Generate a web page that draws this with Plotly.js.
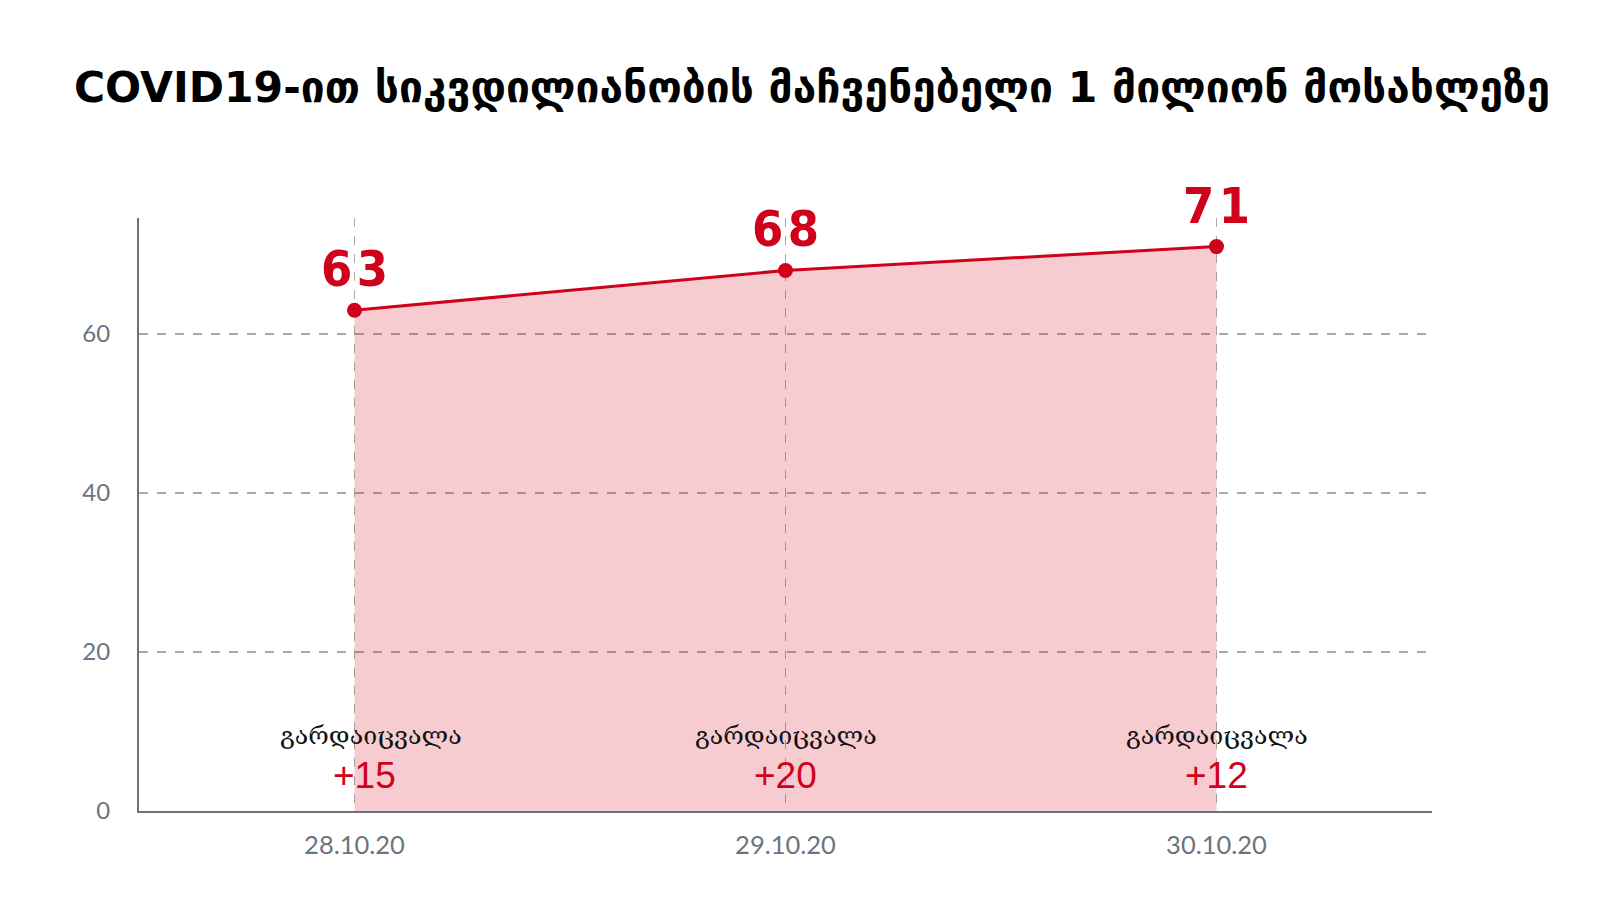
<!DOCTYPE html>
<html>
<head>
<meta charset="utf-8">
<script src="https://cdn.plot.ly/plotly-3.0.1.min.js"></script>
<style>html,body{margin:0;padding:0;background:#fff;}#chart{width:1600px;height:923px;}</style>
</head>
<body>
<div id="chart"></div>
<script>
const titleText = 'COVID19-ით სიკვდილიანობის მაჩვენებელი 1 მილიონ მოსახლეზე';
const dates = ['28.10.20', '29.10.20', '30.10.20'];
const deathsPerMillion = [63, 68, 71];
const dailyDeaths = [15, 20, 12];
const dailyLabel = 'გარდაიცვალა';
const yTicks = [0, 20, 40, 60];

const RED = '#d0021b';

const trace = {
  x: dates,
  y: deathsPerMillion,
  type: 'scatter',
  mode: 'lines+markers',
  fill: 'tozeroy',
  fillcolor: 'rgba(208,2,27,0.2)',
  line: {color: RED, width: 3},
  marker: {color: RED, size: 15},
  hoverinfo: 'skip'
};

const annotations = [];
dates.forEach((d, i) => {
  const dx = i === 0 ? 16 : 0;
  annotations.push({
    x: d, y: deathsPerMillion[i], xref: 'x', yref: 'y',
    text: String(deathsPerMillion[i]).split('').join('\u200A'),
    showarrow: false, yanchor: 'middle', yshift: 41,
    font: {family: '"Liberation Sans Narrow", "DejaVu Sans Condensed", sans-serif', size: 50, color: RED, weight: 700}
  });
  annotations.push({
    x: d, y: 0, xref: 'x', yref: 'y',
    text: dailyLabel,
    showarrow: false, yanchor: 'middle', yshift: 76, xshift: dx,
    font: {family: '"DejaVu Serif", serif', size: 25, color: '#111'}
  });
  annotations.push({
    x: d, y: 0, xref: 'x', yref: 'y',
    text: '+' + dailyDeaths[i],
    showarrow: false, yanchor: 'middle', yshift: 36, xshift: dx * 0.6,
    font: {family: '"Liberation Sans", Arial, sans-serif', size: 37, color: RED}
  });
});

const layout = {
  width: 1600, height: 923,
  paper_bgcolor: '#fff', plot_bgcolor: '#fff',
  margin: {l: 139, r: 168, t: 218, b: 112},
  showlegend: false,
  title: {
    text: '<b>' + titleText + '</b>',
    x: 0.5075, xanchor: 'center', y: 0.906, yanchor: 'middle',
    font: {family: '"DejaVu Sans", sans-serif', size: 42.5, color: '#000'}
  },
  xaxis: {
    type: 'category',
    range: [-0.5, 2.5],
    showline: true, linecolor: '#6b737c', linewidth: 2,
    showgrid: true, gridcolor: '#aaaaaa', griddash: 'dash', gridwidth: 1.5,
    zeroline: false,
    ticks: 'outside', ticklen: 10, tickcolor: 'rgba(0,0,0,0)',
    tickfont: {family: 'Lato, sans-serif', size: 25.5, color: '#6b7580'},
    fixedrange: true
  },
  yaxis: {
    range: [0, 74.6],
    tickvals: yTicks,
    showline: true, linecolor: '#6b737c', linewidth: 2,
    showgrid: true, gridcolor: '#aaaaaa', griddash: 'dash', gridwidth: 1.5,
    zeroline: false,
    ticks: 'outside', ticklen: 22, tickcolor: 'rgba(0,0,0,0)',
    tickfont: {family: 'Lato, sans-serif', size: 24, color: '#6b7580'},
    fixedrange: true
  },
  annotations: annotations
};

Plotly.newPlot('chart', [trace], layout, {displayModeBar: false, staticPlot: true});
</script>
</body>
</html>
